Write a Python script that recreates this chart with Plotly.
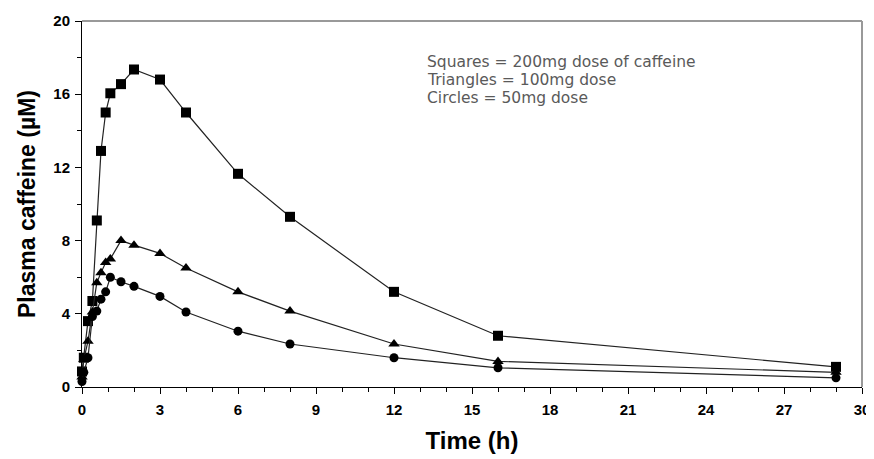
import plotly.graph_objects as go

# Time points (h)
times = [0, 0.07, 0.23, 0.4, 0.57, 0.73, 0.91, 1.09, 1.5, 2, 3, 4, 6, 8, 12, 16, 29]

# Plasma caffeine (µM)
dose_200mg = [0.85, 1.6, 3.6, 4.7, 9.1, 12.9, 15.0, 16.05, 16.55, 17.35, 16.8, 15.0, 11.65, 9.3, 5.2, 2.8, 1.1]
dose_100mg = [0.55, 1.5, 2.5, 4.1, 5.7, 6.25, 6.8, 7.0, 8.0, 7.75, 7.3, 6.5, 5.2, 4.15, 2.35, 1.4, 0.8]
dose_50mg = [0.3, 0.8, 1.6, 3.85, 4.15, 4.8, 5.2, 6.0, 5.75, 5.5, 4.95, 4.1, 3.05, 2.35, 1.6, 1.05, 0.5]

x_tick_vals = [0, 3, 6, 9, 12, 15, 18, 21, 24, 27, 30]
y_tick_vals = [0, 4, 8, 12, 16, 20]

note_lines = ["Squares = 200mg dose of caffeine", "Triangles = 100mg dose", "Circles = 50mg dose"]

fig = go.Figure()
series = [
    ("200mg", dose_200mg, "square", 10),
    ("100mg", dose_100mg, "triangle-up", 10),
    ("50mg", dose_50mg, "circle", 9),
]
for name, vals, sym, size in series:
    fig.add_trace(go.Scatter(
        x=times, y=vals, name=name, mode="lines+markers",
        line=dict(color="#222222", width=1.2),
        marker=dict(symbol=sym, size=size, color="black"),
        cliponaxis=False, showlegend=False,
    ))

tickfont = dict(family="Liberation Sans, Arial", size=15, color="black", weight="bold")
fig.update_xaxes(
    range=[0, 30], tickvals=x_tick_vals, ticktext=[f"<b>{v}</b>" for v in x_tick_vals],
    ticks="outside", ticklen=6, tickcolor="black", tickwidth=1,
    minor=dict(dtick=1, ticks="outside", ticklen=4, tickcolor="black"),
    showline=True, linecolor="black", linewidth=1, showgrid=False, zeroline=False,
    tickfont=tickfont, automargin=False, ticklabelstandoff=3,
    title=dict(text="<b>Time (h)</b>", font=dict(family="Liberation Sans, Arial", size=24, color="black"), standoff=15),
)
fig.update_yaxes(
    range=[0, 20], tickvals=y_tick_vals, ticktext=[f"<b>{v}</b>" for v in y_tick_vals],
    ticks="outside", ticklen=6, tickcolor="black", tickwidth=1,
    minor=dict(dtick=2, ticks="outside", ticklen=4, tickcolor="black"),
    showline=True, linecolor="black", linewidth=1, showgrid=False, zeroline=False,
    tickfont=tickfont, automargin=False, ticklabelstandoff=2,
    title=dict(text="<b>Plasma caffeine (µM)</b>", font=dict(family="Liberation Sans, Arial", size=23, color="black"), standoff=11),
)

# Frame top/right in gray
fig.add_shape(type="line", xref="paper", yref="paper", x0=0, x1=1, y0=1, y1=1,
              line=dict(color="#999999", width=2))
fig.add_shape(type="line", xref="paper", yref="paper", x0=1, x1=1, y0=0, y1=1,
              line=dict(color="#999999", width=2))

note_y = [0.888, 0.839, 0.790]
for line_text, yy in zip(note_lines, note_y):
    fig.add_annotation(
        xref="paper", yref="paper", x=0.44, y=yy, xanchor="left", yanchor="middle",
        text=line_text, align="left", showarrow=False,
        font=dict(family="DejaVu Sans, Verdana", size=15.5, color="#5a5a5a"),
    )

fig.update_layout(
    width=874, height=459,
    margin=dict(l=74, r=20, t=13, b=80),
    plot_bgcolor="white", paper_bgcolor="white",
)

fig.write_html("out.html")
